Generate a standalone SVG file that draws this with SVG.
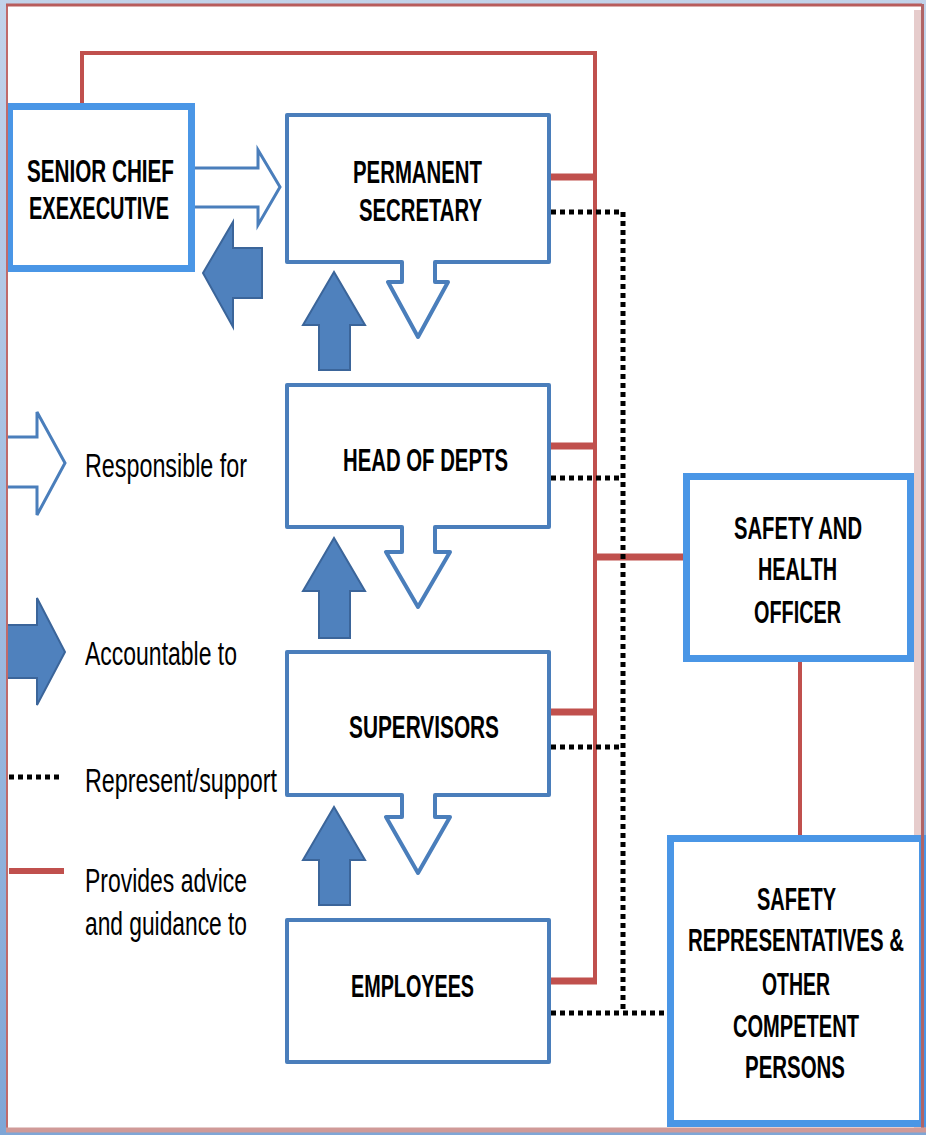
<svg xmlns="http://www.w3.org/2000/svg" width="926" height="1135" viewBox="0 0 926 1135">
<defs>
<linearGradient id="bg" x1="0" y1="0" x2="0" y2="1">
<stop offset="0" stop-color="#c2d3ea"/>
<stop offset="1" stop-color="#7fa6d6"/>
</linearGradient>
<style>
.box{fill:#fff;stroke:#4a7ebb;stroke-width:4;stroke-linejoin:round}
.bbox{fill:#fff;stroke:#4a96e6;stroke-width:7}
.hollow{fill:#fff;stroke:#4a7ebb;stroke-width:3;stroke-linejoin:miter}
.filled{fill:#4f81bd;stroke:#3b659a;stroke-width:2}
.red{fill:none;stroke:#c0504d;stroke-width:4}
.redt{fill:none;stroke:#c0504d;stroke-width:7}
.dot{fill:none;stroke:#000;stroke-width:5;stroke-dasharray:5 4}
.nt{font-family:"Liberation Sans Narrow","Liberation Sans",Arial,sans-serif;font-weight:bold;font-size:31px;fill:#000}
.lt{font-family:"Liberation Sans Narrow","Liberation Sans",Arial,sans-serif;font-size:34px;fill:#000}
</style>
</defs>
<rect x="0" y="0" width="926" height="1135" fill="url(#bg)"/>
<rect x="6" y="4" width="916" height="1126" fill="#fff"/>
<rect x="914" y="10" width="8" height="1120" fill="#e6cccc"/>

<g id="connectors">
<polyline class="red" points="82,106 82,53 595,53 595,983"/>
<line class="redt" x1="549" y1="177" x2="595" y2="177"/>
<line class="redt" x1="549" y1="446" x2="595" y2="446"/>
<line class="redt" x1="549" y1="712" x2="595" y2="712"/>
<line class="redt" x1="549" y1="981" x2="597" y2="981"/>
<line class="redt" x1="595" y1="557" x2="684" y2="557"/>
<line class="red" x1="800" y1="662" x2="800" y2="836"/>
<polyline class="dot" points="551,212 623,212 623,1013"/>
<line class="dot" x1="551" y1="478" x2="623" y2="478"/>
<line class="dot" x1="551" y1="747" x2="623" y2="747"/>
<line class="dot" x1="551" y1="1013" x2="666" y2="1013"/>
<path class="hollow" d="M180,168 H258 V150 L280,187 L258,225 V207 H180 Z"/>
<path class="filled" d="M262,248 H233 V222 L203,273 L233,327 V298 H262 Z"/>
<path class="filled" d="M319,370 V325 H303 L334,272 L365,325 H350 V370 Z"/>
<path class="filled" d="M319,638 V591 H303 L334,538 L365,591 H350 V638 Z"/>
<path class="filled" d="M319,905 V860 H303 L334,807 L365,860 H350 V905 Z"/>
</g>

<g id="senior-chief">
<rect class="bbox" x="9.5" y="106.5" width="182" height="162"/>
<text class="nt" x="27" y="182" textLength="147" lengthAdjust="spacingAndGlyphs">SENIOR CHIEF</text>
<text class="nt" x="29" y="219" textLength="140" lengthAdjust="spacingAndGlyphs">EXEXECUTIVE</text>
</g>

<g id="permanent-secretary">
<path class="box" d="M287,115 H549 V262 H435 V282 H448 L418,337 L388,282 H402 V262 H287 Z"/>
<text class="nt" x="353" y="183" textLength="129" lengthAdjust="spacingAndGlyphs">PERMANENT</text>
<text class="nt" x="359" y="221" textLength="123" lengthAdjust="spacingAndGlyphs">SECRETARY</text>
</g>

<g id="head-of-depts">
<path class="box" d="M287,385 H549 V527 H435 V552 H450 L418,607 L386,552 H402 V527 H287 Z"/>
<text class="nt" x="343" y="471" textLength="165" lengthAdjust="spacingAndGlyphs">HEAD OF DEPTS</text>
</g>

<g id="supervisors">
<path class="box" d="M287,652 H549 V795 H435 V817 H450 L418,873 L386,817 H402 V795 H287 Z"/>
<text class="nt" x="349" y="738" textLength="150" lengthAdjust="spacingAndGlyphs">SUPERVISORS</text>
</g>

<g id="employees">
<rect class="box" x="287" y="920" width="262" height="142"/>
<text class="nt" x="351" y="997" textLength="123" lengthAdjust="spacingAndGlyphs">EMPLOYEES</text>
</g>

<g id="safety-health-officer">
<rect class="bbox" x="686.5" y="476.5" width="224" height="182"/>
<text class="nt" transform="translate(798,539) scale(0.65,1)" x="0" y="0" text-anchor="middle" textLength="197" lengthAdjust="spacingAndGlyphs">SAFETY AND</text>
<text class="nt" x="758" y="580" textLength="79" lengthAdjust="spacingAndGlyphs">HEALTH</text>
<text class="nt" x="754" y="623" textLength="87" lengthAdjust="spacingAndGlyphs">OFFICER</text>
</g>

<g id="safety-representatives">
<rect class="bbox" x="670.5" y="838.5" width="252" height="285"/>
<text class="nt" x="757" y="910" textLength="79" lengthAdjust="spacingAndGlyphs">SAFETY</text>
<text class="nt" transform="translate(796,951) scale(0.65,1)" x="0" y="0" text-anchor="middle" textLength="332" lengthAdjust="spacingAndGlyphs">REPRESENTATIVES &amp;</text>
<text class="nt" x="762" y="995" textLength="68" lengthAdjust="spacingAndGlyphs">OTHER</text>
<text class="nt" x="733" y="1037" textLength="126" lengthAdjust="spacingAndGlyphs">COMPETENT</text>
<text class="nt" x="745" y="1078" textLength="100" lengthAdjust="spacingAndGlyphs">PERSONS</text>
</g>

<g id="legend">
<path class="hollow" d="M-4,437 H37 V412 L65,463 L37,515 V487 H-4 Z"/>
<text class="lt" x="85" y="477" textLength="162" lengthAdjust="spacingAndGlyphs">Responsible for</text>
<path class="filled" d="M-4,625 H37 V598 L65,652 L37,705 V678 H-4 Z"/>
<text class="lt" x="85" y="665" textLength="152" lengthAdjust="spacingAndGlyphs">Accountable to</text>
<line class="dot" x1="9" y1="777" x2="63" y2="777"/>
<text class="lt" x="85" y="792" textLength="192" lengthAdjust="spacingAndGlyphs">Represent/support</text>
<line class="redt" x1="9" y1="871" x2="64" y2="871" style="stroke-width:6"/>
<text class="lt" x="85" y="892" textLength="162" lengthAdjust="spacingAndGlyphs">Provides advice</text>
<text class="lt" x="85" y="935" textLength="162" lengthAdjust="spacingAndGlyphs">and guidance to</text>
</g>

<rect x="0" y="0" width="6" height="1135" fill="url(#bg)"/>
<line x1="7" y1="4" x2="7" y2="1130" stroke="#c06a6a" stroke-width="2"/>
<line x1="6" y1="5" x2="922" y2="5" stroke="#b85c5c" stroke-width="3"/>
<line x1="922.5" y1="4" x2="922.5" y2="1130" stroke="#b06466" stroke-width="3"/>
<line x1="6" y1="1130" x2="926" y2="1130" stroke="#d09a98" stroke-width="5"/>
</svg>
